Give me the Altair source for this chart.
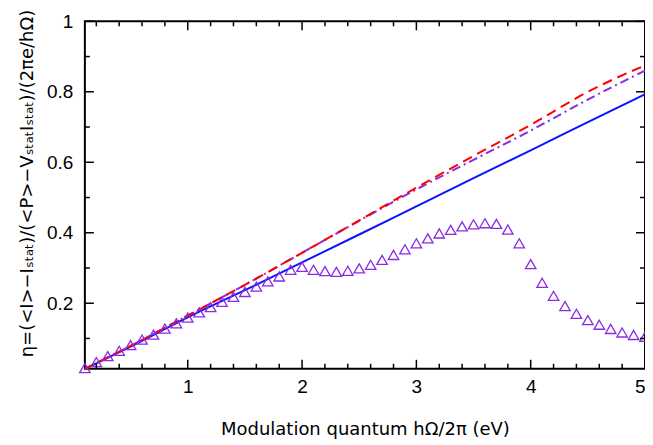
import altair as alt
import pandas as pd

# ---- data ----
x_line = [0.1, 0.5, 1.0, 1.5, 2.0, 2.5, 3.0, 3.5, 4.0, 4.5, 5.0]
blue_solid = [0.014, 0.077, 0.160, 0.237, 0.316, 0.395, 0.475, 0.555, 0.634, 0.714, 0.793]
red_dashed = [0.014, 0.079, 0.165, 0.252, 0.343, 0.435, 0.528, 0.618, 0.706, 0.800, 0.875]
purple_dashdot = [0.014, 0.079, 0.165, 0.252, 0.343, 0.434, 0.523, 0.607, 0.690, 0.778, 0.860]

x_tri = [0.1, 0.2, 0.3, 0.4, 0.5, 0.6, 0.7, 0.8, 0.9, 1.0,
         1.1, 1.2, 1.3, 1.4, 1.5, 1.6, 1.7, 1.8, 1.9, 2.0,
         2.1, 2.2, 2.3, 2.4, 2.5, 2.6, 2.7, 2.8, 2.9, 3.0,
         3.1, 3.2, 3.3, 3.4, 3.5, 3.6, 3.7, 3.8, 3.9, 4.0,
         4.1, 4.2, 4.3, 4.4, 4.5, 4.6, 4.7, 4.8, 4.9, 5.0]
y_tri = [0.016, 0.033, 0.050, 0.065, 0.081, 0.097, 0.111, 0.128, 0.143, 0.159,
         0.174, 0.189, 0.204, 0.218, 0.232, 0.247, 0.262, 0.276, 0.295, 0.303,
         0.295, 0.291, 0.289, 0.292, 0.299, 0.309, 0.323, 0.337, 0.353, 0.370,
         0.384, 0.398, 0.408, 0.418, 0.424, 0.427, 0.425, 0.409, 0.370, 0.311,
         0.258, 0.221, 0.192, 0.170, 0.152, 0.139, 0.127, 0.117, 0.110, 0.105]

x_major = [1, 2, 3, 4, 5]
x_minor = [0.2, 0.4, 0.6, 0.8, 1.2, 1.4, 1.6, 1.8, 2.2, 2.4, 2.6, 2.8,
           3.2, 3.4, 3.6, 3.8, 4.2, 4.4, 4.6, 4.8]
y_major = [0.2, 0.4, 0.6, 0.8, 1.0]
y_minor = [0.1, 0.3, 0.5, 0.7, 0.9]

W, H = 561, 348
FONT = "Liberation Sans"
TFONT = "DejaVu Sans"
BLUE = "#0a14ff"
RED = "#ff0000"
PURPLE = "#8a2be2"

xscale = alt.Scale(domain=[0.1, 5], nice=False, zero=False)
yscale = alt.Scale(domain=[0.014, 1], nice=False, zero=False)

lines = pd.DataFrame({"x": x_line, "blue": blue_solid, "red": red_dashed, "purple": purple_dashdot})
tri = pd.DataFrame({"x": x_tri, "y": y_tri})

xaxis = alt.Axis(values=x_major, format="~f", ticks=False, domain=False, grid=False,
                 labelFont=FONT, labelFontSize=19, labelColor="black", labelPadding=9,
                 title="Modulation quantum hΩ/2π (eV)", titleFont=TFONT, titleFontSize=18,
                 titleFontWeight="normal", titleColor="black",
                 titleX=W / 2, titleY=66, titleBaseline="alphabetic", titleAlign="center")
yaxis = alt.Axis(values=y_major, format=".1~f", ticks=False, domain=False, grid=False,
                 labelFont=FONT, labelFontSize=19, labelColor="black", labelPadding=12,
                 title="η=(<I>−Iₛₜₐₜ)/(<P>−VₛₜₐₜIₛₜₐₜ)/(2πe/hΩ)", titleFont=TFONT,
                 titleFontSize=18, titleFontWeight="normal", titleColor="black",
                 titleX=-57, titleY=162, titleAngle=270, titleAlign="center",
                 titleBaseline="middle")

base = alt.Chart(lines)

blue_l = base.mark_line(color=BLUE, strokeWidth=2, interpolate="monotone").encode(
    x=alt.X("x:Q", scale=xscale, axis=xaxis),
    y=alt.Y("blue:Q", scale=yscale, axis=yaxis))
purple_l = base.mark_line(color=PURPLE, strokeWidth=2, strokeDash=[9, 4, 2, 4],
                          interpolate="monotone").encode(
    x=alt.X("x:Q", scale=xscale), y=alt.Y("purple:Q", scale=yscale))
red_l = base.mark_line(color=RED, strokeWidth=2, strokeDash=[10, 6],
                       interpolate="monotone").encode(
    x=alt.X("x:Q", scale=xscale), y=alt.Y("red:Q", scale=yscale))
tri_l = alt.Chart(tri).mark_point(shape="triangle-up", filled=False, color=PURPLE,
                                  size=110, strokeWidth=1.3, opacity=1).encode(
    x=alt.X("x:Q", scale=xscale), y=alt.Y("y:Q", scale=yscale))


def xticks(vals, length):
    d = pd.DataFrame({"v": vals})
    bottom = alt.Chart(d).mark_rule(color="black", strokeWidth=1.5).encode(
        x=alt.X("v:Q", scale=xscale), y=alt.value(H), y2=alt.value(H - length))
    top = alt.Chart(d).mark_rule(color="black", strokeWidth=1.5).encode(
        x=alt.X("v:Q", scale=xscale), y=alt.value(0), y2=alt.value(length))
    return [bottom, top]


def yticks(vals, length):
    d = pd.DataFrame({"v": vals})
    left = alt.Chart(d).mark_rule(color="black", strokeWidth=1.5).encode(
        y=alt.Y("v:Q", scale=yscale), x=alt.value(0), x2=alt.value(length))
    right = alt.Chart(d).mark_rule(color="black", strokeWidth=1.5).encode(
        y=alt.Y("v:Q", scale=yscale), x=alt.value(W), x2=alt.value(W - length))
    return [left, right]


ticks = xticks(x_major, 9) + xticks(x_minor, 5) + yticks(y_major, 9) + yticks(y_minor, 5)

chart = alt.layer(blue_l, purple_l, red_l, tri_l, *ticks).properties(
    width=W, height=H,
    autosize=alt.AutoSizeParams(type="none"),
    padding={"left": 77, "top": 13, "right": 0, "bottom": 70},
    background="white",
).configure_view(stroke="black", strokeWidth=2)

chart.save("out.html", embed_options={"renderer": "svg", "actions": False})
